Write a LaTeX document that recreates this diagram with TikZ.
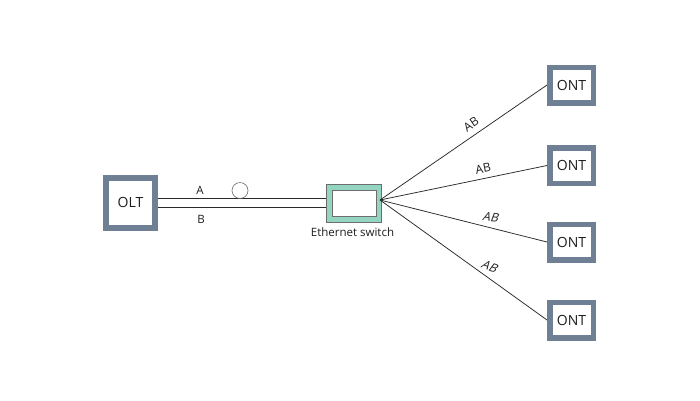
\documentclass[tikz,border=0pt]{standalone}
\usepackage{fontspec}
\setmainfont{Open Sans}
\definecolor{boxgray}{HTML}{6F7F94}
\definecolor{swteal}{HTML}{93D5C0}
\definecolor{swgray}{HTML}{6D6D6D}
\definecolor{txt}{HTML}{1E1E1E}
\definecolor{wirec}{HTML}{2A2A2A}
\begin{document}
\begin{tikzpicture}[x=1pt,y=-1pt,
  termbox/.style={draw=boxgray, line width=5.5pt, fill=white, inner sep=0pt,
    text=txt, font=\fontsize{14}{16}\selectfont},
  oltbox/.style={termbox, line width=6pt, minimum width=49pt, minimum height=50pt},
  ontbox/.style={termbox, minimum width=43.5pt, minimum height=35.5pt},
  wire/.style={draw=wirec, line width=0.75pt},
  lbl/.style={text=txt, inner sep=0pt, font=\fontsize{11.5}{13}\selectfont},
  ablbl/.style={text=txt, inner sep=0pt, font=\fontsize{12}{14}\selectfont}]
\useasboundingbox[fill=white] (0,0) rectangle (700,400);

% switch
\node[draw=swgray, fill=swteal, line width=0.8pt, minimum width=55pt, minimum height=38pt, inner sep=0pt] (SW) at (354,203.5) {};
\node[draw=swgray, fill=white, line width=0.8pt, minimum width=44pt, minimum height=26pt, inner sep=0pt] (SWin) at (SW.center) {};
\node[lbl] (swlabel) at (352.5,232) {Ethernet switch};
\coordinate (hub) at (380,200);

% OLT
\node[oltbox] (OLT) at (130.5,202.5) {OLT};

% ONTs
\node[ontbox] (ONT1) at (571.5,85) {ONT};
\node[ontbox] (ONT2) at (571.5,165.5) {ONT};
\node[ontbox] (ONT3) at (571.5,242) {ONT};
\node[ontbox] (ONT4) at (571.5,320) {ONT};

% fiber pair
\draw[wire] ([yshift=4.5pt]OLT.east) -- ([yshift=4.5pt]OLT.east -| SW.west)
  node[lbl, pos=0.25, yshift=8pt] {A};
\draw[wire] ([yshift=-4.5pt]OLT.east) -- ([yshift=-4.5pt]OLT.east -| SW.west)
  node[lbl, pos=0.256, yshift=-12pt] {B};
\node[circle, draw=swgray, line width=0.6pt, minimum size=16pt, inner sep=0pt] (loop) at (240,190.5) {};

% fan-out
\draw[wire] (hub) -- (ONT1.west) node[ablbl, pos=0.545, yshift=13pt, rotate=34] {AB};
\draw[wire] (hub) -- (ONT2.west) node[ablbl, pos=0.617, yshift=10pt, rotate=11] {AB};
\draw[wire] (hub) -- (ONT3.west) node[ablbl, pos=0.667, yshift=10.5pt, rotate=-6, xslant=0.25] {AB};
\draw[wire] (hub) -- (ONT4.west) node[ablbl, pos=0.661, yshift=12.5pt, rotate=-20, xslant=0.3] {AB};
\end{tikzpicture}
\end{document}
